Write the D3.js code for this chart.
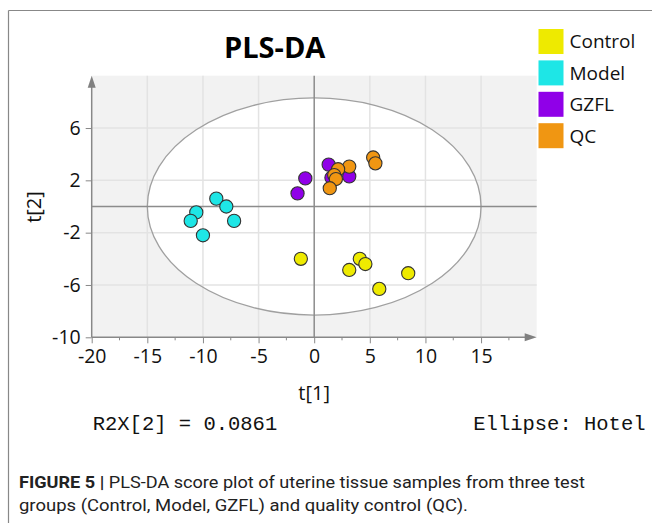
<!DOCTYPE html>
<html><head><meta charset="utf-8">
<script src="https://cdn.jsdelivr.net/npm/d3@7"></script>
<style>html,body{margin:0;padding:0;background:#fff;overflow:hidden}</style>
</head><body>
<script>
const groups = ["Control","Model","GZFL","QC"];
const colors = ["#eeea00","#1ee6e6","#9000e8","#f09612"];
const modelX = [-10.6,-11.1,-10.0,-8.8,-7.9,-7.2];
const modelY = [-0.45,-1.1,-2.2,0.6,0.0,-1.1];
const gzflX = [-1.5,-0.8,1.3,1.55,3.15];
const gzflY = [1.0,2.15,3.2,2.2,2.3];
const qcX = [5.3,5.5,3.15,2.15,1.8,1.95,1.4];
const qcY = [3.75,3.3,3.05,2.85,2.4,2.1,1.4];
const controlX = [-1.2,3.15,4.1,4.6,5.85,8.45];
const controlY = [-4.0,-4.85,-4.0,-4.4,-6.3,-5.1];
const xTicks = [-20,-15,-10,-5,0,5,10,15];
const yTicks = [6,2,-2,-6,-10];
const xMinor = [-17.5,-12.5,-7.5,-2.5,2.5,7.5,12.5,17.5];
const ellipseA = 15, ellipseB = 8.3;

const W=652,H=523;
const svg=d3.select("body").append("svg").attr("width",W).attr("height",H);
const x=d3.scaleLinear().domain([-20,20]).range([91.7,536.7]);
const y=d3.scaleLinear().domain([-10,10]).range([337.3,75.7]);
const font="'Open Sans', sans-serif";
const fmt=d=>String(d);

// frame
svg.append("line").attr("x1",8.5).attr("x2",W).attr("y1",10.5).attr("y2",10.5).attr("stroke","#888").attr("stroke-width",1.2);
svg.append("line").attr("x1",8.5).attr("x2",8.5).attr("y1",10.5).attr("y2",H).attr("stroke","#888").attr("stroke-width",1.2);

// plot bg
svg.append("rect").attr("x",x(-20)).attr("y",y(10)).attr("width",x(20)-x(-20)).attr("height",y(-10)-y(10)).attr("fill","#f2f2f2");
// ellipse
svg.append("ellipse").attr("cx",x(0)).attr("cy",y(0)).attr("rx",x(ellipseA)-x(0)).attr("ry",y(0)-y(ellipseB)).attr("fill","#fff");
// gridlines
const gx=[-15,-10,-5,5,10,15], gy=[6,2,-2,-6];
svg.append("g").selectAll("line").data(gx).join("line")
  .attr("x1",d=>x(d)).attr("x2",d=>x(d)).attr("y1",y(10)).attr("y2",y(-10)).attr("stroke","#e3e3e3").attr("stroke-width",1.5);
svg.append("g").selectAll("line").data(gy).join("line")
  .attr("y1",d=>y(d)).attr("y2",d=>y(d)).attr("x1",x(-20)).attr("x2",x(20)).attr("stroke","#e3e3e3").attr("stroke-width",1.5);
svg.append("ellipse").attr("cx",x(0)).attr("cy",y(0)).attr("rx",x(ellipseA)-x(0)).attr("ry",y(0)-y(ellipseB)).attr("fill","none").attr("stroke","#a0a0a0").attr("stroke-width",1.3);
// zero lines
svg.append("line").attr("x1",x(-20)).attr("x2",x(20)).attr("y1",y(0)).attr("y2",y(0)).attr("stroke","#8c8c8c").attr("stroke-width",1.5);
svg.append("line").attr("x1",x(0)).attr("x2",x(0)).attr("y1",y(10)).attr("y2",y(-10)).attr("stroke","#8c8c8c").attr("stroke-width",1.5);

// axes
const ax=svg.append("g").attr("transform",`translate(0,${y(-10)})`).call(d3.axisBottom(x).tickValues(xTicks).tickSize(6).tickPadding(6).tickFormat(fmt));
ax.select(".domain").remove();
ax.selectAll("line").attr("stroke","#888");
ax.selectAll("text").attr("font-family",font).attr("font-size",19.5).attr("fill","#111");
svg.append("g").selectAll("line").data(xMinor).join("line").attr("x1",d=>x(d)).attr("x2",d=>x(d)).attr("y1",y(-10)).attr("y2",y(-10)+3).attr("stroke","#888");
const ay=svg.append("g").attr("transform",`translate(${x(-20)},0)`).call(d3.axisLeft(y).tickValues(yTicks).tickSize(6).tickPadding(5).tickFormat(fmt));
ay.select(".domain").remove();
ay.selectAll("line").attr("stroke","#888");
ay.selectAll("text").attr("font-family",font).attr("font-size",19.5).attr("fill","#111");
// axis lines with arrows
svg.append("line").attr("x1",x(-20)).attr("x2",x(20)-8).attr("y1",y(-10)).attr("y2",y(-10)).attr("stroke","#888").attr("stroke-width",1.5);
svg.append("line").attr("x1",x(-20)).attr("x2",x(-20)).attr("y1",y(-10)).attr("y2",y(10)+8).attr("stroke","#888").attr("stroke-width",1.5);
svg.append("path").attr("d",`M${x(20)},${y(-10)} l-12,-4 l0,8 z`).attr("fill","#808080");
svg.append("path").attr("d",`M${x(-20)},${y(10)} l-4,12 l8,0 z`).attr("fill","#808080");

// points
const series=[
  {g:"Model",xs:modelX,ys:modelY},
  {g:"GZFL",xs:gzflX,ys:gzflY},
  {g:"QC",xs:qcX,ys:qcY},
  {g:"Control",xs:controlX,ys:controlY}];
const col=d3.scaleOrdinal().domain(groups).range(colors);
series.forEach(s=>{
  svg.append("g").selectAll("circle").data(s.xs.map((v,i)=>[v,s.ys[i]])).join("circle")
    .attr("cx",d=>x(d[0])).attr("cy",d=>y(d[1])).attr("r",6.6)
    .attr("fill",col(s.g)).attr("stroke","#333").attr("stroke-width",1.1);
});

// title
svg.append("text").attr("x",274.7).attr("y",58).attr("text-anchor","middle").attr("font-family",font).attr("font-weight","bold").attr("font-size",29).attr("fill","#000").text("PLS-DA");
// axis labels
svg.append("text").attr("x",x(0)).attr("y",400).attr("text-anchor","middle").attr("font-family",font).attr("font-size",20).attr("fill","#111").text("t[1]");
svg.append("text").attr("transform","translate(41,207) rotate(-90)").attr("text-anchor","middle").attr("font-family",font).attr("font-size",20).attr("fill","#111").text("t[2]");

// legend
const lg=svg.append("g").selectAll("g").data(groups).join("g").attr("transform",(d,i)=>`translate(538.5,${29+i*31.4})`);
lg.append("rect").attr("width",25).attr("height",25).attr("fill",d=>col(d));
lg.append("text").attr("x",31).attr("y",19.3).attr("font-family",font).attr("font-size",19).attr("fill","#111").text(d=>d);

// footer stats
const mono="'Liberation Mono', 'DejaVu Sans Mono', monospace";
svg.append("text").attr("x",92.7).attr("y",430).attr("font-family",mono).attr("font-size",20.5).attr("fill","#111").text("R2X[2] = 0.0861");
svg.append("text").attr("x",473.3).attr("y",430).attr("font-family",mono).attr("font-size",20.5).attr("fill","#111").text("Ellipse: Hotel");

// caption
const cap=svg.append("text").attr("x",19).attr("y",488).attr("font-family","Roboto, sans-serif").attr("font-size",17).attr("fill","#222").attr("textLength",566).attr("lengthAdjust","spacingAndGlyphs");
cap.append("tspan").attr("font-weight","bold").text("FIGURE 5 | ");
cap.append("tspan").text("PLS-DA score plot of uterine tissue samples from three test");
svg.append("text").attr("x",19).attr("y",511).attr("font-family","Roboto, sans-serif").attr("font-size",17).attr("fill","#222").attr("textLength",449).attr("lengthAdjust","spacingAndGlyphs").text("groups (Control, Model, GZFL) and quality control (QC).");
</script>
</body></html>
